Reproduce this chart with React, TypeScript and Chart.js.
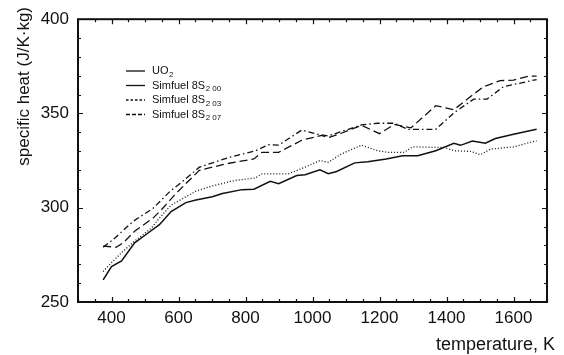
import React, { useEffect, useRef } from "react";
import { Chart, registerables } from "chart.js";
Chart.register(...registerables);

// ---- data ----
const xTicks = [400, 600, 800, 1000, 1200, 1400, 1600];
const yTicks = [250, 300, 350, 400];

const uo2T = [375, 400, 430, 469, 509, 543, 578, 622, 652, 701, 731, 790, 825, 874, 899, 953, 978, 1022, 1047, 1072, 1126, 1165, 1220, 1269, 1314, 1368, 1422, 1442, 1477, 1516, 1546, 1600, 1669];
const uo2V = [261.7, 268.8, 271.8, 281.4, 286.6, 291.0, 298, 302.7, 304.1, 305.8, 307.5, 309.6, 309.8, 314, 312.8, 317.1, 317.5, 320.1, 318, 319.2, 323.8, 324.4, 325.9, 327.6, 327.6, 330.2, 334.2, 333.1, 335.4, 334.2, 336.7, 339, 341.6];

const s00T = [375, 400, 435, 469, 519, 543, 578, 622, 652, 701, 770, 830, 849, 874, 928, 978, 1022, 1047, 1086, 1146, 1195, 1225, 1274, 1299, 1368, 1393, 1422, 1472, 1501, 1531, 1600, 1669];
const s00V = [266.2, 270.9, 277, 282.3, 289.2, 294.5, 301.4, 305.8, 308.8, 311.6, 314.5, 315.8, 318, 318, 318, 321.5, 325, 324.1, 328.5, 333.2, 330.2, 329.4, 329.4, 332.3, 332, 332, 330.2, 329.9, 328.1, 331.1, 332.3, 335.5];

const s03T = [375, 405, 464, 524, 573, 622, 662, 751, 830, 869, 899, 968, 1007, 1047, 1146, 1195, 1244, 1284, 1368, 1422, 1481, 1521, 1570, 1669];
const s03V = [279.1, 283.1, 292.7, 299.7, 308.4, 315.4, 321.5, 326.7, 330.2, 333.4, 333.2, 341.2, 339.3, 338.1, 343.9, 344.8, 344.8, 341.6, 341.6, 350.3, 357.6, 357.6, 364.2, 368];

const s07T = [375, 415, 435, 469, 524, 553, 588, 622, 662, 701, 751, 825, 849, 899, 968, 1027, 1047, 1086, 1146, 1200, 1244, 1294, 1368, 1422, 1472, 1511, 1560, 1600, 1644, 1669];
const s07V = [279.6, 279.1, 281.4, 287.5, 294.5, 299.7, 306.7, 312.8, 319.8, 321.5, 323.6, 325.9, 329.4, 329.4, 335.8, 338.4, 337.2, 339.5, 343.7, 339.3, 344.2, 342.4, 354.1, 352, 359, 364.2, 367.4, 367.7, 369.8, 369.8];

const legendMain = ["UO", "Simfuel 8S", "Simfuel 8S", "Simfuel 8S"];
const legendSub = ["2", "2 00", "2 03", "2 07"];
const xTitle = "temperature, K";
const yTitle = "specific heat (J/K\u00b7kg)";

const FONT = "'Liberation Sans', Arial, Helvetica, sans-serif";
const INK = "#111";

const lineDashes: number[][] = [[], [1, 2], [6, 3, 1.5, 3], [8, 4]];
const legendDashes: number[][] = [[], [], [2.5, 2], [4, 2]];

function pts(t: number[], v: number[]) {
  return t.map((x, i) => ({ x, y: v[i] }));
}

const framePlugin = {
  id: "frameTicksLegend",
  afterDraw(chart: any) {
    const { ctx, chartArea: a, scales } = chart;
    const xs = scales.x;
    const ys = scales.y;
    ctx.save();
    ctx.strokeStyle = INK;
    ctx.fillStyle = INK;
    // frame
    ctx.lineWidth = 2;
    ctx.setLineDash([]);
    ctx.strokeRect(a.left, a.top, a.right - a.left, a.bottom - a.top);
    // ticks (inward on all four sides)
    ctx.lineWidth = 1.2;
    for (let v = 300; v <= 1700; v += 50) {
      const px = Math.round(xs.getPixelForValue(v)) + 0.5;
      const len = v % 200 === 0 ? 5 : 3;
      ctx.beginPath();
      ctx.moveTo(px, a.bottom);
      ctx.lineTo(px, a.bottom - len);
      ctx.moveTo(px, a.top);
      ctx.lineTo(px, a.top + len);
      ctx.stroke();
    }
    for (let v = 250; v <= 400; v += 10) {
      const py = Math.round(ys.getPixelForValue(v)) + 0.5;
      const len = v % 50 === 0 ? 5 : 3;
      ctx.beginPath();
      ctx.moveTo(a.left, py);
      ctx.lineTo(a.left + len, py);
      ctx.moveTo(a.right, py);
      ctx.lineTo(a.right - len, py);
      ctx.stroke();
    }
    // legend
    for (let i = 0; i < legendMain.length; i++) {
      const y = 71 + i * 14.5;
      ctx.lineWidth = 1.3;
      ctx.setLineDash(legendDashes[i]);
      ctx.beginPath();
      ctx.moveTo(126, y);
      ctx.lineTo(145, y);
      ctx.stroke();
      ctx.setLineDash([]);
      ctx.textAlign = "left";
      ctx.textBaseline = "middle";
      ctx.font = `11px ${FONT}`;
      ctx.fillText(legendMain[i], 152, y);
      const w = ctx.measureText(legendMain[i]).width;
      ctx.font = `8px ${FONT}`;
      ctx.fillText(legendSub[i], 152 + w + 0.5, y + 3.5);
    }
    // axis titles
    ctx.font = `18px ${FONT}`;
    ctx.textAlign = "right";
    ctx.textBaseline = "middle";
    ctx.fillText(xTitle, 555, 345);
    ctx.translate(24, 7);
    ctx.rotate(-Math.PI / 2);
    ctx.font = `17px ${FONT}`;
    ctx.textAlign = "right";
    ctx.textBaseline = "middle";
    ctx.fillText(yTitle, 0, 0);
    ctx.restore();
  },
};

export default function App() {
  const ref = useRef<HTMLCanvasElement | null>(null);
  useEffect(() => {
    if (!ref.current) return;
    const mk = (label: string, t: number[], v: number[], i: number) => ({
      label,
      data: pts(t, v),
      borderColor: INK,
      borderWidth: i === 0 ? 1.5 : 1.3,
      borderDash: lineDashes[i],
      pointRadius: 0,
      tension: 0,
      fill: false,
    });
    const chart = new Chart(ref.current, {
      type: "line",
      data: {
        datasets: [
          mk("UO2", uo2T, uo2V, 0),
          mk("Simfuel 8S2 00", s00T, s00V, 1),
          mk("Simfuel 8S2 03", s03T, s03V, 2),
          mk("Simfuel 8S2 07", s07T, s07V, 3),
        ],
      },
      options: {
        responsive: false,
        animation: false,
        events: [],
        layout: { padding: { top: 15, right: 17, left: 0, bottom: 0 } },
        plugins: { legend: { display: false }, tooltip: { enabled: false } },
        scales: {
          x: {
            type: "linear",
            min: 300,
            max: 1700,
            grid: { display: false, drawTicks: false },
            border: { display: false },
            afterBuildTicks: (s: any) => {
              s.ticks = xTicks.map((v) => ({ value: v }));
            },
            afterFit: (s: any) => {
              s.height = 53;
            },
            ticks: {
              font: { family: FONT, size: 17 },
              color: INK,
              padding: 6,
              maxRotation: 0,
              autoSkip: false,
              callback: (v: any) => String(v),
            },
          },
          y: {
            type: "linear",
            min: 250,
            max: 400,
            grid: { display: false, drawTicks: false },
            border: { display: false },
            afterBuildTicks: (s: any) => {
              s.ticks = yTicks.map((v) => ({ value: v }));
            },
            afterFit: (s: any) => {
              s.width = 78;
            },
            ticks: {
              font: { family: FONT, size: 17 },
              color: INK,
              padding: 9,
              autoSkip: false,
              callback: (v: any) => String(v),
            },
          },
        },
      },
      plugins: [framePlugin],
    } as any);
    return () => chart.destroy();
  }, []);
  return (
    <div style={{ position: "absolute", left: 0, top: 0, width: 564, height: 355, background: "#fff" }}>
      <canvas ref={ref} width={564} height={355} style={{ display: "block" }} />
    </div>
  );
}
